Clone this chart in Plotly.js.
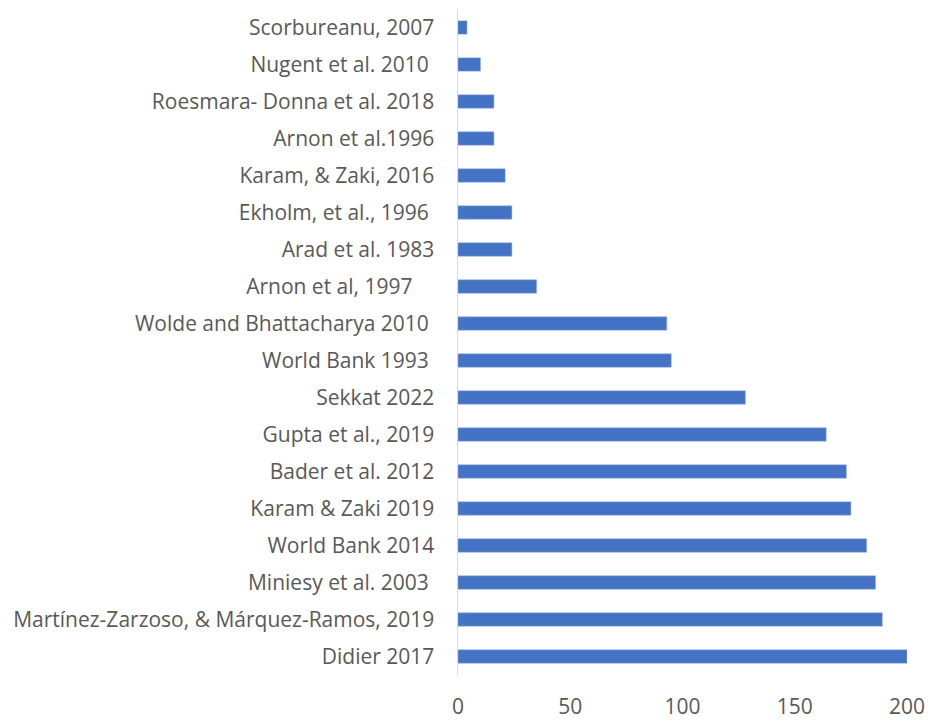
<!DOCTYPE html>
<html>
<head>
<meta charset="utf-8">
<script src="https://cdn.plot.ly/plotly-3.0.1.min.js"></script>
<style>html,body{margin:0;padding:0;background:#fff;}#chart{width:928px;height:720px;}</style>
</head>
<body>
<div id="chart"></div>
<script>
// Categories listed top to bottom as in the reference
const studies = [
  "Scorbureanu, 2007",
  "Nugent et al. 2010\u00a0",
  "Roesmara- Donna et al. 2018",
  "Arnon et al.1996",
  "Karam, & Zaki, 2016",
  "Ekholm, et al., 1996\u00a0",
  "Arad et al. 1983",
  "Arnon et al, 1997\u00a0\u00a0\u00a0\u00a0",
  "Wolde and Bhattacharya 2010\u00a0",
  "World Bank 1993\u00a0",
  "Sekkat 2022",
  "Gupta et al., 2019",
  "Bader et al. 2012",
  "Karam & Zaki 2019",
  "World Bank 2014",
  "Miniesy et al. 2003\u00a0",
  "Martínez-Zarzoso, & Márquez-Ramos, 2019",
  "Didier 2017"
];
const values = [4, 10, 16, 16, 21, 24, 24, 35, 93, 95, 128, 164, 173, 175, 182, 186, 189, 200];
const xTicks = [0, 50, 100, 150, 200];

const trace = {
  type: 'bar',
  orientation: 'h',
  y: studies,
  x: values,
  marker: {color: '#4472C4', line: {color: '#8FAADC', width: 0.5}},
  hoverinfo: 'x+y'
};

const layout = {
  width: 928,
  height: 720,
  margin: {l: 458, r: 21, t: 8.5, b: 44.5},
  paper_bgcolor: '#ffffff',
  plot_bgcolor: '#ffffff',
  bargap: 0.64,
  showlegend: false,
  font: {family: 'Open Sans, sans-serif', size: 21, color: '#595959'},
  xaxis: {
    range: [0, 200],
    tickvals: xTicks,
    ticktext: xTicks.map(String),
    showgrid: false,
    zeroline: false,
    showline: false,
    ticks: 'outside',
    ticklen: 13,
    tickcolor: 'rgba(0,0,0,0)',
    tickfont: {family: 'Open Sans, sans-serif', size: 21, color: '#595959'}
  },
  yaxis: {
    type: 'category',
    autorange: 'reversed',
    showgrid: false,
    zeroline: false,
    showline: true,
    linecolor: '#D9D9D9',
    linewidth: 1.5,
    ticks: 'outside',
    ticklen: 18,
    tickcolor: 'rgba(0,0,0,0)',
    tickfont: {family: 'Open Sans, sans-serif', size: 21, color: '#595959'}
  }
};

Plotly.newPlot('chart', [trace], layout, {displayModeBar: false, staticPlot: true});
</script>
</body>
</html>
